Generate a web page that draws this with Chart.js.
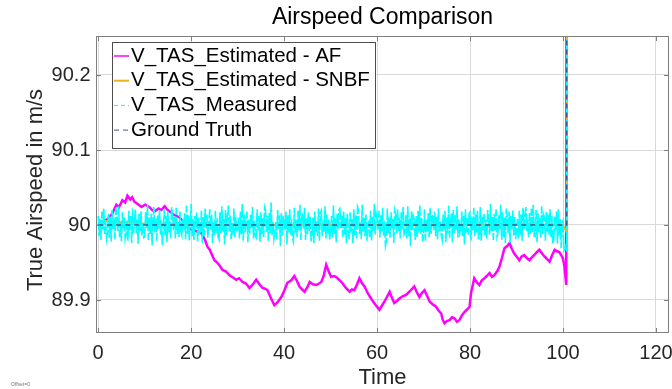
<!DOCTYPE html>
<html>
<head>
<meta charset="utf-8">
<script src="https://cdn.jsdelivr.net/npm/chart.js@4.4.1/dist/chart.umd.min.js"></script>
<style>
  html, body { margin: 0; padding: 0; background: #fff; }
  #chart { display: block; }
</style>
</head>
<body>
<canvas id="chart" width="672" height="389" style="width:672px;height:389px"></canvas>
<script>
// ticks
const xTicks = [0, 20, 40, 60, 80, 100, 120];
const yTicks = [89.9, 90, 90.1, 90.2];
const yTickLabels = ['89.9', '90', '90.1', '90.2'];

// V_TAS_Estimated - AF
const afTime = [0, 1, 2, 3, 3.9, 4.5, 5.2, 5.8, 6.3, 6.9, 7.3, 7.8, 8.5, 9.3, 10.1, 11, 11.6, 12.1, 13, 13.6,
  14.3, 14.8, 15.4, 16.2, 17.5, 18.6, 19.7, 21, 22.2, 23, 23.5, 24, 24.5, 25, 25.4, 26, 26.75, 27.5, 28.26, 29,
  29.7, 30.3, 31.05, 31.8, 32.56, 33.3, 34, 34.7, 35.35, 35.9, 36.43, 37.2, 37.9, 38.6, 39.4, 40, 40.7, 41.5, 42.2, 42.8,
  43.3, 43.9, 44.4, 45, 45.5, 46.2, 46.9, 47.5, 48, 48.5, 49.05, 49.6, 50.1, 50.8, 51.5, 52, 52.6, 53.3, 54.1, 54.6,
  55.1, 55.7, 56.2, 56.8, 57.3, 58, 58.7, 59.6, 60.5, 61, 61.6, 62.2, 62.7, 63.2, 63.7, 64.3, 64.8, 65.5, 66.3, 67.1,
  68, 68.5, 69.1, 69.6, 70.2, 70.8, 71.3, 72, 72.7, 73.2, 73.8, 74.1, 74.5, 75, 75.6, 76.1, 76.6, 77.2, 77.7, 78.3,
  78.8, 79.3, 79.9, 80.2, 80.6, 80.9, 81.4, 82, 82.5, 83.1, 83.6, 84.2, 84.7, 85.2, 85.8, 86.3, 86.9, 87.4, 88, 88.5,
  89, 89.5, 90, 90.6, 91.1, 91.7, 92.2, 92.8, 93.3, 93.8, 94.4, 94.9, 95.5, 96, 96.5, 97.1, 97.6, 98.2, 98.7, 99.2,
  99.6, 100, 100.3, 100.7, 101.2];
const afValues = [90.000, 90.004, 90.008, 90.015, 90.027, 90.024, 90.033, 90.030, 90.039, 90.034, 90.037, 90.031, 90.028, 90.024, 90.027, 90.024, 90.020, 90.018, 90.022, 90.020,
  90.025, 90.021, 90.018, 90.014, 90.010, 90.003, 89.995, 89.992, 89.989, 89.980, 89.971, 89.967, 89.960, 89.953, 89.951, 89.947, 89.940, 89.938, 89.933, 89.930,
  89.927, 89.929, 89.924, 89.922, 89.916, 89.921, 89.927, 89.921, 89.916, 89.915, 89.913, 89.902, 89.893, 89.897, 89.904, 89.912, 89.923, 89.926, 89.932, 89.925,
  89.918, 89.914, 89.911, 89.917, 89.924, 89.921, 89.920, 89.922, 89.924, 89.932, 89.947, 89.938, 89.931, 89.932, 89.929, 89.926, 89.922, 89.916, 89.911, 89.914,
  89.913, 89.921, 89.929, 89.922, 89.918, 89.909, 89.902, 89.894, 89.887, 89.892, 89.898, 89.905, 89.911, 89.903, 89.896, 89.899, 89.902, 89.905, 89.907, 89.912,
  89.918, 89.911, 89.904, 89.909, 89.913, 89.905, 89.898, 89.894, 89.891, 89.886, 89.882, 89.874, 89.869, 89.872, 89.873, 89.877, 89.876, 89.871, 89.873, 89.880,
  89.884, 89.887, 89.891, 89.909, 89.920, 89.929, 89.924, 89.920, 89.926, 89.929, 89.932, 89.936, 89.931, 89.933, 89.938, 89.944, 89.957, 89.969, 89.972, 89.976,
  89.968, 89.962, 89.958, 89.953, 89.958, 89.960, 89.956, 89.953, 89.957, 89.960, 89.964, 89.967, 89.962, 89.958, 89.955, 89.951, 89.959, 89.967, 89.965, 89.964,
  89.960, 89.955, 89.945, 89.920, 120];

// V_TAS_Estimated - SNBF (mostly hidden under the measured band)
const snbfTime = [0, 10, 20, 30, 40, 50, 60, 70, 80, 90, 100, 100.8, 101.2];
const snbfValues = [90.006, 90.002, 90.001, 89.999, 90.000, 90.001, 90.000, 89.999, 90.000, 90.001, 90.000, 89.990, 120];

// V_TAS_Measured, one sample every 0.2 s
const measStep = 0.2;
const measValues = [
  90.012, 89.985, 90.008, 89.980, 90.018, 89.994, 90.022, 89.988, 90.005, 89.982,
  89.990, 90.016, 89.983, 90.011, 89.978, 90.020, 89.995, 90.009, 89.981, 90.023,
  90.014, 89.991, 90.025, 89.984, 90.003, 89.978, 90.017, 89.996, 90.010, 89.981,
  89.987, 90.006, 89.979, 90.019, 89.992, 90.013, 89.976, 90.022, 89.989, 90.004,
  90.021, 89.989, 90.007, 89.975, 90.015, 89.992, 90.019, 89.986, 90.002, 89.983,
  89.984, 90.017, 89.996, 90.027, 89.980, 90.010, 89.988, 90.015, 89.973, 90.008,
  90.024, 89.990, 90.009, 89.979, 90.013, 89.995, 90.020, 89.987, 90.006, 89.973,
  89.993, 90.021, 89.985, 90.012, 89.977, 90.018, 89.990, 90.005, 89.982, 90.024,
  90.016, 89.993, 90.011, 89.982, 90.023, 89.988, 90.004, 89.984, 90.018, 89.991,
  89.986, 90.009, 89.994, 90.016, 89.981, 90.026, 89.988, 90.013, 89.979, 90.007,
  90.028, 89.985, 90.008, 89.980, 90.012, 89.997, 90.017, 89.978, 90.010, 89.989,
  89.991, 90.019, 89.976, 90.011, 89.985, 90.022, 89.995, 90.014, 89.983, 90.003,
  90.021, 89.994, 90.014, 89.976, 90.005, 89.986, 90.019, 89.990, 90.009, 89.983,
  89.980, 90.017, 89.989, 90.025, 89.992, 90.008, 89.974, 90.020, 89.986, 90.012,
  90.026, 89.992, 90.013, 89.981, 90.003, 89.987, 90.022, 89.984, 90.011, 89.993,
  89.994, 90.010, 89.982, 90.018, 89.987, 90.029, 89.979, 90.015, 89.990, 90.006,
  90.018, 89.977, 90.007, 89.988, 90.015, 89.996, 90.024, 89.982, 90.006, 89.985,
  89.983, 90.021, 89.993, 90.012, 89.977, 90.017, 89.988, 90.009, 89.984, 90.024,
  90.020, 89.991, 90.012, 89.979, 90.016, 89.989, 90.030, 89.986, 90.004, 89.981,
  89.989, 90.004, 89.981, 90.020, 89.995, 90.013, 89.972, 90.016, 89.986, 90.011,
  90.010, 89.994, 90.018, 89.974, 90.013, 89.990, 90.021, 89.987, 90.008, 89.983,
  89.978, 90.023, 89.990, 90.007, 89.984, 90.019, 89.993, 90.027, 89.980, 90.014,
  90.015, 89.995, 90.023, 89.980, 90.009, 89.988, 90.017, 89.992, 90.011, 89.978,
  89.987, 90.010, 89.976, 90.018, 89.991, 90.005, 89.985, 90.022, 89.979, 90.016,
  90.019, 89.985, 90.006, 89.991, 90.025, 89.982, 90.014, 89.989, 90.007, 89.980,
  89.992, 90.012, 89.983, 90.026, 89.988, 90.009, 89.977, 90.015, 89.994, 90.020,
  90.022, 89.996, 90.012, 89.984, 90.018, 89.987, 90.009, 89.976, 90.016, 89.993,
  89.981, 90.017, 89.990, 90.008, 89.975, 90.021, 89.986, 90.013, 89.982, 90.024,
  90.020, 89.988, 90.005, 89.981, 90.027, 89.990, 90.011, 89.985, 90.014, 89.979,
  89.995, 90.006, 89.984, 90.019, 89.979, 90.011, 89.992, 90.028, 89.987, 90.015,
  90.008, 89.994, 90.019, 89.983, 90.013, 89.991, 90.023, 89.986, 90.006, 89.972,
  89.978, 90.022, 89.989, 90.010, 89.983, 90.017, 89.996, 90.008, 89.976, 90.020,
  90.015, 89.989, 90.021, 89.992, 90.010, 89.982, 90.017, 89.995, 90.024, 89.987,
  89.990, 90.013, 89.982, 90.025, 89.985, 90.009, 89.971, 90.018, 89.993, 90.012,
  90.007, 89.980, 90.012, 89.984, 90.019, 89.990, 90.026, 89.988, 90.009, 89.978,
  89.986, 90.021, 89.979, 90.007, 89.991, 90.016, 89.984, 90.023, 89.988, 90.011,
  90.014, 89.993, 90.018, 89.985, 90.011, 89.981, 90.022, 89.991, 90.005, 89.986,
  89.980, 90.014, 89.994, 90.019, 89.977, 90.010, 89.989, 90.026, 89.983, 90.005,
  90.016, 89.977, 90.020, 89.989, 90.013, 89.994, 90.025, 89.983, 90.008, 89.988,
  89.992, 90.018, 89.985, 90.012, 89.974, 90.021, 89.990, 90.009, 89.987, 90.016,
  90.017, 89.979, 90.010, 89.992, 90.023, 89.985, 90.014, 89.990, 90.019, 89.982,
  89.983, 90.024, 89.978, 90.011, 89.993, 90.015, 89.986, 90.007, 89.981, 90.020,
  90.006, 89.987, 90.028, 89.991, 90.012, 89.980, 90.015, 89.993, 90.021, 89.984,
  89.989, 90.013, 89.995, 90.027, 89.980, 90.017, 89.984, 90.010, 89.976, 90.022,
  90.009, 89.989, 90.018, 89.976, 90.013, 89.995, 90.020, 89.986, 90.011, 89.981,
  89.991, 90.008, 89.982, 90.019, 89.987, 90.014, 89.979, 90.023, 89.994, 90.012,
  90.024, 89.992, 90.007, 89.983, 90.016, 89.988, 90.022, 89.990, 90.027, 89.985,
  89.985, 90.020, 89.977, 90.016, 89.990, 90.009, 89.983, 90.025, 89.988, 90.014,
  90.010, 89.979, 90.018, 89.991, 90.014, 89.987, 90.021, 89.984, 90.012, 89.975,
  89.980, 90.011, 89.992, 90.018, 89.975, 90.021, 89.986, 90.008, 89.969, 90.003,
  90.006, 89.966, 89.968, 89.972, 89.965
];
const jumpTime = 101.2;
const jumpValue = 120;

// Ground Truth
const truthTime = [0, 100.8, 101.2];
const truthValues = [90, 90, 120];

const seriesLabels = ['V_TAS_Estimated - AF', 'V_TAS_Estimated - SNBF', 'V_TAS_Measured', 'Ground Truth'];
const chartTitle = 'Airspeed Comparison';
const yTitle = 'True Airspeed in m/s';

function pairs(ts, vs) {
  return ts.map((t, i) => ({ x: t, y: vs[i] }));
}
const measData = measValues.map((v, i) => ({ x: i * measStep, y: v }));
measData.push({ x: jumpTime, y: jumpValue });

const FONT = '"Liberation Sans", Arial, Helvetica, sans-serif';
const TXT = '#262626';

// draws the matlab style box, inward ticks, legend, title and y title
const matlabAxes = {
  id: 'matlabAxes',
  afterDraw(chart) {
    const { ctx, chartArea: a, scales: { x, y } } = chart;
    ctx.save();

    ctx.strokeStyle = '#7f7f7f';
    ctx.lineWidth = 1;
    ctx.strokeRect(a.left + 0.5, a.top + 0.5, a.right - a.left - 1, a.bottom - a.top - 1);
    ctx.beginPath();
    xTicks.forEach(v => {
      const px = Math.round(x.getPixelForValue(v)) + 0.5;
      ctx.moveTo(px, a.bottom); ctx.lineTo(px, a.bottom - 5);
      ctx.moveTo(px, a.top); ctx.lineTo(px, a.top + 5);
    });
    yTicks.forEach(v => {
      const py = Math.round(y.getPixelForValue(v)) + 0.5;
      ctx.moveTo(a.left, py); ctx.lineTo(a.left + 5, py);
      ctx.moveTo(a.right, py); ctx.lineTo(a.right - 5, py);
    });
    ctx.stroke();

    // legend
    ctx.fillStyle = '#fff';
    ctx.fillRect(112, 42, 263, 106);
    ctx.strokeStyle = '#4d4d4d';
    ctx.strokeRect(112.5, 42.5, 263, 106);
    ctx.font = '20.5px ' + FONT;
    ctx.textBaseline = 'middle';
    ctx.textAlign = 'left';
    chart.data.datasets.forEach((ds, i) => {
      const cy = 56 + i * 24.7;
      ctx.beginPath();
      ctx.strokeStyle = ds.borderColor;
      ctx.lineWidth = ds.legendWidth;
      ctx.setLineDash(ds.legendDash || []);
      ctx.moveTo(114, cy); ctx.lineTo(129, cy);
      ctx.stroke();
      ctx.setLineDash([]);
      ctx.fillStyle = '#000';
      ctx.fillText(ds.label, 131, cy);
    });

    // title, centred on the plot box
    ctx.textAlign = 'center';
    ctx.font = '23px ' + FONT;
    ctx.fillText(chartTitle, (a.left + a.right) / 2, 18);

    // y axis title
    ctx.translate(35.5, 190);
    ctx.rotate(-Math.PI / 2);
    ctx.fillStyle = TXT;
    ctx.font = '22px ' + FONT;
    ctx.fillText(yTitle, 0, 0);
    ctx.restore();

    ctx.save();
    ctx.font = '5px ' + FONT;
    ctx.fillStyle = '#777';
    ctx.fillText('Offset=0', 11, 386);
    ctx.restore();
  }
};

new Chart(document.getElementById('chart'), {
  type: 'line',
  data: {
    datasets: [
      { label: seriesLabels[0], data: pairs(afTime, afValues), borderColor: '#ff00ff', borderWidth: 2.5, legendWidth: 1.5, order: 4 },
      { label: seriesLabels[1], data: pairs(snbfTime, snbfValues), borderColor: '#edb120', borderWidth: 2, legendWidth: 2, order: 3 },
      { label: seriesLabels[2], data: measData, borderColor: '#00ffff', borderWidth: 1.6, borderDash: [14, 2], legendDash: [4, 3], legendWidth: 1, order: 2 },
      { label: seriesLabels[3], data: pairs(truthTime, truthValues), borderColor: '#46558f', borderWidth: 1.5, borderDash: [5, 4], legendDash: [5, 4], legendWidth: 1, order: 1 }
    ]
  },
  options: {
    responsive: false,
    animation: false,
    events: [],
    elements: { point: { radius: 0 }, line: { tension: 0, fill: false } },
    layout: { padding: { left: 0, right: 3, top: 36, bottom: 0 } },
    plugins: {
      legend: { display: false },
      tooltip: { enabled: false },
      title: { display: false }
    },
    scales: {
      x: {
        type: 'linear',
        min: -0.47,
        max: 122.8,
        afterBuildTicks: s => { s.ticks = xTicks.map(v => ({ value: v })); },
        afterFit: s => { s.height = 56; s.paddingLeft = 0; s.paddingRight = 0; },
        grid: { color: '#d9d9d9', drawTicks: false },
        border: { display: false },
        ticks: { color: TXT, font: { family: FONT, size: 20 }, padding: 8, maxRotation: 0, callback: v => String(v) },
        title: { display: true, text: 'Time', color: TXT, font: { family: FONT, size: 22, lineHeight: 1 }, padding: { top: 0, bottom: 0 } }
      },
      y: {
        type: 'linear',
        min: 89.856,
        max: 90.252,
        afterBuildTicks: s => { s.ticks = yTicks.map(v => ({ value: v })); },
        afterFit: s => { s.width = 96; s.paddingTop = 0; s.paddingBottom = 0; },
        grid: { color: '#d9d9d9', drawTicks: false },
        border: { display: false },
        ticks: {
          color: TXT,
          font: { family: FONT, size: 20 },
          padding: 5.5,
          callback: (v, i) => yTickLabels[i]
        }
      }
    }
  },
  plugins: [matlabAxes]
});
</script>
</body>
</html>
